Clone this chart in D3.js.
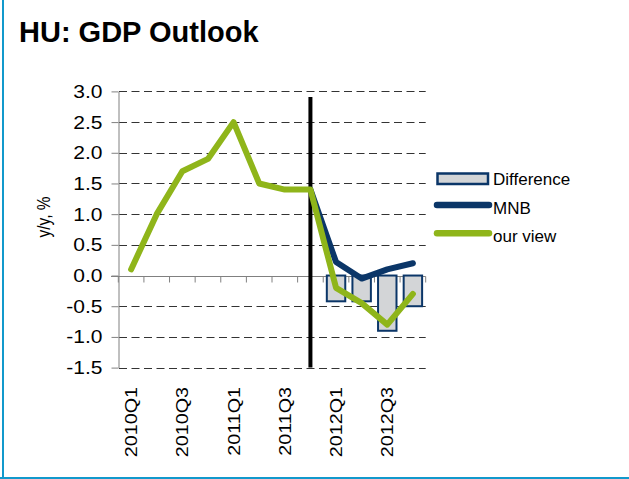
<!DOCTYPE html>
<html lang="en">
<head>
<meta charset="UTF-8">
<title>HU: GDP Outlook</title>
<script src="https://d3js.org/d3.v7.min.js"></script>
<style>
  body { margin: 0; background: #fff; }
  svg { display: block; font-family: "Liberation Sans", Arial, sans-serif; }
</style>
</head>
<body>
<svg width="629" height="479"></svg>
<script>
// data
const quarters = ["2010Q1","2010Q2","2010Q3","2010Q4","2011Q1","2011Q2","2011Q3","2011Q4","2012Q1","2012Q2","2012Q3","2012Q4"];
const ourView = [0.1, 1.0, 1.7, 1.9, 2.5, 1.5, 1.4, 1.4, -0.2, -0.45, -0.8, -0.3];
const mnb = [null, null, null, null, null, null, null, 1.4, 0.22, -0.05, 0.1, 0.2];
const difference = [null, null, null, null, null, null, null, null, -0.42, -0.42, -0.9, -0.5];
const yTicks = [-1.5, -1.0, -0.5, 0, 0.5, 1.0, 1.5, 2.0, 2.5, 3.0];
const xLabels = ["2010Q1","2010Q3","2011Q1","2011Q3","2012Q1","2012Q3"];
const forecastStart = "2011Q4";

const green = "#8fb51a", navy = "#0b3668", barFill = "#d3d5d7", grey = "#808080";

const svg = d3.select("svg");

// frame lines (left + bottom)
svg.append("rect").attr("x", 2).attr("y", 0).attr("width", 2).attr("height", 479).attr("fill", "#1199cc");
svg.append("rect").attr("x", 0).attr("y", 477).attr("width", 629).attr("height", 2).attr("fill", "#1199cc");

svg.append("text").attr("x", 19).attr("y", 42)
  .style("font-size", "29px").style("font-weight", "bold").attr("fill", "#000")
  .text("HU: GDP Outlook");

const x = d3.scaleBand().domain(quarters).range([118.3, 425.7]);
const bw = x.bandwidth();
const cx = q => x(q) + bw / 2;
const y = d3.scaleLinear().domain([-1.5, 3]).range([367.6, 91.4]);

// dashed gridlines
svg.append("g").selectAll("line")
  .data(yTicks.filter(d => d !== 0))
  .enter().append("line")
  .attr("x1", 119).attr("x2", 425.7)
  .attr("y1", d => Math.round(y(d)) + 0.5).attr("y2", d => Math.round(y(d)) + 0.5)
  .attr("stroke", "#333").attr("stroke-dasharray", "8,4.5");

// y axis
const ya = svg.append("g").attr("transform", "translate(118.5,0)")
  .call(d3.axisLeft(y).tickValues(yTicks).tickSize(7).tickSizeOuter(0).tickFormat(d => d.toFixed(1)));
ya.select(".domain").attr("stroke", grey);
ya.selectAll(".tick line").attr("stroke", grey);
ya.selectAll(".tick text")
  .style("font-size", "17.5px").style("font-family", "Liberation Sans, Arial, sans-serif")
  .attr("fill", "#000").attr("x", -16 / 1.2).attr("dy", "0.34em")
  .attr("transform", "scale(1.2,1)");

svg.append("text")
  .attr("transform", "translate(50,217) rotate(-90)")
  .attr("text-anchor", "middle")
  .attr("textLength", 41).attr("lengthAdjust", "spacingAndGlyphs")
  .style("font-size", "18px").text("y/y, %");

// zero line with category ticks
const y0 = Math.round(y(0)) + 0.5;
svg.append("line").attr("x1", 111).attr("x2", 425.7).attr("y1", y0).attr("y2", y0).attr("stroke", grey);
svg.append("g").selectAll("line")
  .data(d3.range(quarters.length + 1))
  .enter().append("line")
  .attr("x1", i => 118.3 + i * bw).attr("x2", i => 118.3 + i * bw)
  .attr("y1", y0).attr("y2", y0 + 6).attr("stroke", grey);

// difference bars
const barW = bw * 0.72;
svg.append("g").selectAll("rect")
  .data(quarters.map((q, i) => ({q, v: difference[i]})).filter(d => d.v !== null))
  .enter().append("rect")
  .attr("x", d => cx(d.q) - barW / 2).attr("width", barW)
  .attr("y", y(0)).attr("height", d => y(d.v) - y(0))
  .attr("fill", barFill).attr("stroke", navy).attr("stroke-width", 2);

// x labels
svg.append("g").selectAll("text")
  .data(xLabels)
  .enter().append("text")
  .attr("transform", d => "translate(" + (cx(d) + 6) + ",387) rotate(-90) scale(1.16,1)")
  .attr("text-anchor", "end")
  .style("font-size", "17px").text(d => d);

// forecast divider
svg.append("line").attr("x1", cx(forecastStart)).attr("x2", cx(forecastStart))
  .attr("y1", 97).attr("y2", 367.6).attr("stroke", "#000").attr("stroke-width", 4);

const line = d3.line().defined(d => d.v !== null).x(d => cx(d.q)).y(d => y(d.v));
svg.append("path").datum(quarters.map((q, i) => ({q, v: mnb[i]})))
  .attr("d", line).attr("fill", "none").attr("stroke", navy).attr("stroke-width", 6)
  .attr("stroke-linejoin", "round").attr("stroke-linecap", "round");
svg.append("path").datum(quarters.map((q, i) => ({q, v: ourView[i]})))
  .attr("d", line).attr("fill", "none").attr("stroke", green).attr("stroke-width", 6)
  .attr("stroke-linejoin", "round").attr("stroke-linecap", "round");

// legend
const lg = svg.append("g");
lg.append("rect").attr("x", 437.5).attr("y", 173.5).attr("width", 50.5).attr("height", 10.5)
  .attr("fill", barFill).attr("stroke", navy).attr("stroke-width", 2.5);
lg.append("line").attr("x1", 437).attr("x2", 489).attr("y1", 205).attr("y2", 205)
  .attr("stroke", navy).attr("stroke-width", 6.5).attr("stroke-linecap", "round");
lg.append("line").attr("x1", 437).attr("x2", 489).attr("y1", 233.3).attr("y2", 233.3)
  .attr("stroke", green).attr("stroke-width", 6.5).attr("stroke-linecap", "round");
[["Difference", 185], ["MNB", 214], ["our view", 241.5]].forEach(([t, by]) => {
  lg.append("text").attr("x", 493).attr("y", by).style("font-size", "17px").text(t);
});
</script>
</body>
</html>
